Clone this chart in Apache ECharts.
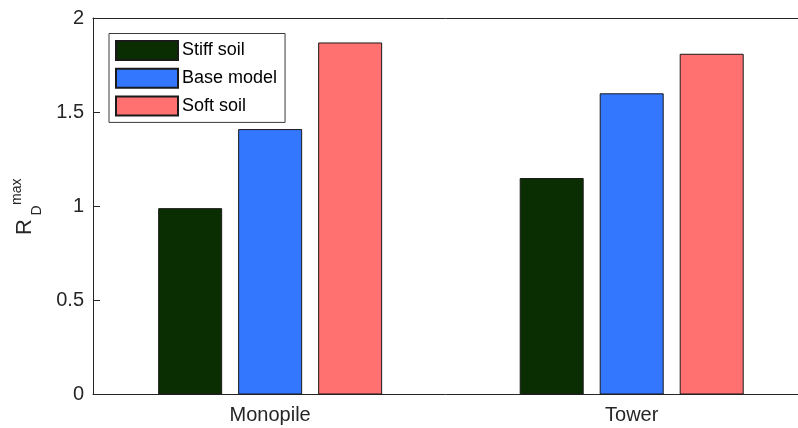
<!DOCTYPE html>
<html>
<head>
<meta charset="utf-8">
<script src="https://cdn.jsdelivr.net/npm/echarts@6/dist/echarts.min.js"></script>
<style>
  html, body { margin: 0; padding: 0; background: #fff; }
  #chart { width: 798px; height: 428px; }
</style>
</head>
<body>
<div id="chart"></div>
<script>
// Peak dynamic response ratio for each structural component and soil case
const categories = ['Monopile', 'Tower'];
const seriesNames = ['Stiff soil', 'Base model', 'Soft soil'];
const stiffSoil = [0.99, 1.15];
const baseModel = [1.41, 1.60];
const softSoil = [1.87, 1.81];
const yTicks = [0, 0.5, 1, 1.5, 2];

const FONT = "'Liberation Sans', Arial, Helvetica, sans-serif";
const INK = '#262626';
const fills = ['#0a2e02', '#3377ff', '#ff7070'];
const values = [stiffSoil, baseModel, softSoil];

// category i sits at x = i + 1 on a value axis
const catPos = categories.map((c, i) => i + 1);
const xMin = 0.51;
const xMax = 2.46;

const chart = echarts.init(document.getElementById('chart'), null, { renderer: 'canvas' });

const series = seriesNames.map((name, s) => ({
  name: name,
  type: 'bar',
  xAxisIndex: 0,
  data: catPos.map((x, i) => [x, values[s][i]]),
  barWidth: 64,
  barGap: '25%',
  itemStyle: { color: fills[s], borderColor: '#1a1a1a', borderWidth: 1 },
  emphasis: { disabled: true }
}));

chart.setOption({
  animation: false,
  textStyle: { fontFamily: FONT },
  grid: { left: 93, top: 18, bottom: 33.5, right: 0 },
  xAxis: [
    {
      type: 'value',
      min: xMin,
      max: xMax,
      axisLine: { show: true, onZero: false, lineStyle: { color: INK, width: 1 } },
      axisTick: { show: true, inside: true, length: 7, customValues: catPos, lineStyle: { color: INK } },
      axisLabel: {
        customValues: catPos,
        formatter: v => categories[Math.round(v) - 1],
        color: INK, fontSize: 20, fontFamily: FONT, margin: 11
      },
      splitLine: { show: false }
    },
    {
      // top edge of the axes box
      type: 'value',
      position: 'top',
      min: xMin,
      max: xMax,
      axisLine: { show: true, onZero: false, lineStyle: { color: INK, width: 1 } },
      axisTick: { show: false },
      axisLabel: { show: false },
      splitLine: { show: false }
    }
  ],
  yAxis: {
    type: 'value',
    min: yTicks[0],
    max: yTicks[yTicks.length - 1],
    interval: 0.5,
    axisLine: { show: true, onZero: false, lineStyle: { color: INK, width: 1 } },
    axisTick: { show: true, inside: true, length: 7, lineStyle: { color: INK } },
    axisLabel: { color: INK, fontSize: 20, fontFamily: FONT, margin: 9 },
    splitLine: { show: false }
  },
  legend: {
    orient: 'vertical',
    left: 109,
    top: 33.5,
    icon: 'rect',
    itemWidth: 62,
    itemHeight: 19,
    itemGap: 6.7,
    padding: [6.5, 8, 6, 6],
    backgroundColor: '#fff',
    borderColor: '#3a3a3a',
    borderWidth: 1,
    textStyle: { color: '#000', fontSize: 18, fontFamily: FONT, padding: [0, 0, 0, -1] },
    data: seriesNames
  },
  // y-axis title R_D^max built from three rotated text pieces
  graphic: [
    {
      type: 'text', x: 24.5, y: 235, rotation: Math.PI / 2,
      style: { text: 'R', font: '22px ' + FONT, fill: INK, textAlign: 'left', textVerticalAlign: 'middle' }
    },
    {
      type: 'text', x: 17.5, y: 205, rotation: Math.PI / 2,
      style: { text: 'max', font: '14px ' + FONT, fill: INK, textAlign: 'left', textVerticalAlign: 'middle' }
    },
    {
      type: 'text', x: 37, y: 215.5, rotation: Math.PI / 2,
      style: { text: 'D', font: '14px ' + FONT, fill: INK, textAlign: 'left', textVerticalAlign: 'middle' }
    }
  ],
  series: series
});
</script>
</body>
</html>
